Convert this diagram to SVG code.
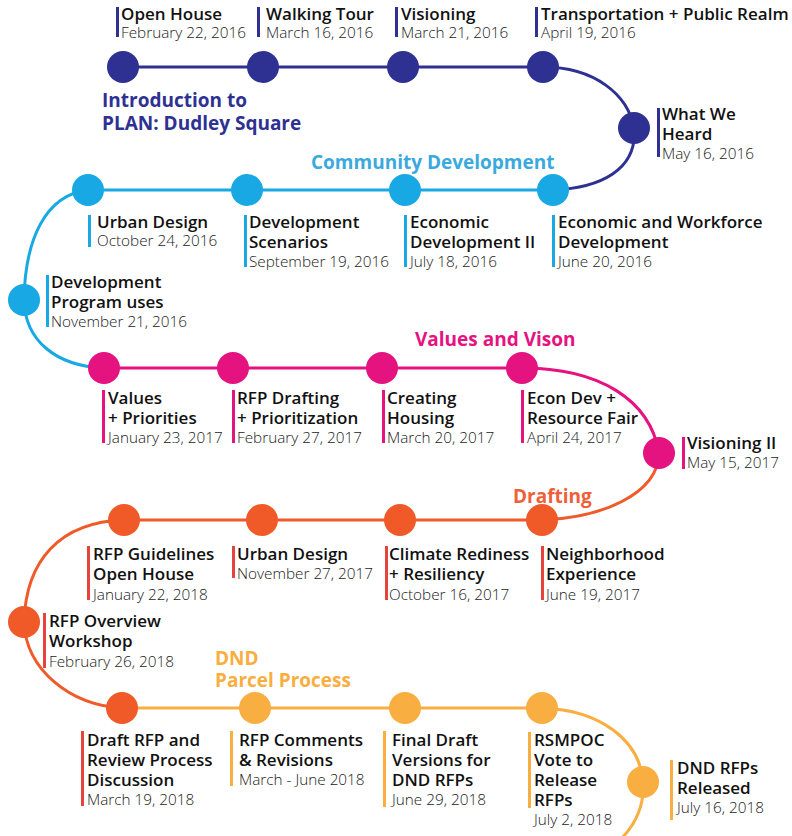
<svg xmlns="http://www.w3.org/2000/svg" width="792" height="836" viewBox="0 0 792 836">
<style>
.t{font-family:"Open Sans","Noto Sans","Liberation Sans",sans-serif;font-weight:600;font-size:17px;fill:#111}
.d{font-family:"Open Sans","Noto Sans","Liberation Sans",sans-serif;font-weight:300;font-size:15.3px;fill:#1a1a1a}
.s{font-family:"Open Sans","Noto Sans","Liberation Sans",sans-serif;font-weight:700;font-size:19px}
.ln{fill:none;stroke-width:3}
.navy{fill:#2e3192}.cyan{fill:#18a9e4}.mag{fill:#e5137f}.org{fill:#f05a28}.yel{fill:#f9ae41}.red{fill:#e5433b}
</style>
<rect width="792" height="836" fill="#fff"/>
<g id="connectors">
<path class="ln" stroke="#2e3192" d="M123,67 H543 C595,67 628,95 634,128 C638,170 600,188 553,190"/>
<path class="ln" stroke="#18a9e4" d="M553,190 H88 C45,195 25,240 24,300 C25,340 55,366 104,368"/>
<path class="ln" stroke="#e5137f" d="M104,368 H522 C600,368 650,400 659,453"/>
<path class="ln" stroke="#f05a28" d="M659,453 C658,495 600,518 542,520 H124 C60,522 26,560 24,622 C26,670 70,705 122,708"/>
<path class="ln" stroke="#f9ae41" d="M122,708 H542 C600,710 640,740 643,782 C645,810 632,828 620,840"/>
</g>
<g id="sections">
<text class="s navy" x="102" y="107">Introduction to</text>
<text class="s navy" x="102" y="130">PLAN: Dudley Square</text>
<text class="s" fill="#3aa9dd" x="311" y="169">Community Development</text>
<text class="s mag" x="415" y="346">Values and Vison</text>
<text class="s" fill="#ee5f3a" x="513" y="503">Drafting</text>
<text class="s yel" x="215" y="665">DND</text>
<text class="s yel" x="215" y="687">Parcel Process</text>
</g>
<g id="n1"><circle class="navy" cx="123" cy="67" r="16"/><rect class="navy" x="116" y="7" width="3" height="30"/><text class="t" x="121" y="20">Open House</text><text class="d" x="121" y="38">February 22, 2016</text></g>
<g id="n2"><circle class="navy" cx="263" cy="67" r="16"/><rect class="navy" x="257" y="7" width="3" height="30"/><text class="t" x="266" y="20">Walking Tour</text><text class="d" x="266" y="38">March 16, 2016</text></g>
<g id="n3"><circle class="navy" cx="403" cy="67" r="16"/><rect class="navy" x="395" y="7" width="3" height="30"/><text class="t" x="401" y="20">Visioning</text><text class="d" x="401" y="38">March 21, 2016</text></g>
<g id="n4"><circle class="navy" cx="543" cy="67" r="16"/><rect class="navy" x="535" y="7" width="3" height="30"/><text class="t" x="541" y="20">Transportation + Public Realm</text><text class="d" x="541" y="38">April 19, 2016</text></g>
<g id="n5"><circle class="navy" cx="634" cy="128" r="16"/><rect class="navy" x="657" y="108" width="3" height="49"/><text class="t" x="662" y="120">What We</text><text class="t" x="662" y="140">Heard</text><text class="d" x="662" y="159">May 16, 2016</text></g>
<g id="n6"><circle class="cyan" cx="553" cy="190" r="16"/><rect class="cyan" x="552" y="215" width="3" height="52"/><text class="t" x="558" y="228">Economic and Workforce</text><text class="t" x="558" y="248">Development</text><text class="d" x="558" y="267">June 20, 2016</text></g>
<g id="n7"><circle class="cyan" cx="405" cy="190" r="16"/><rect class="cyan" x="404" y="215" width="3" height="52"/><text class="t" x="410" y="228">Economic</text><text class="t" x="410" y="248">Development II</text><text class="d" x="410" y="267">July 18, 2016</text></g>
<g id="n8"><circle class="cyan" cx="247" cy="190" r="16"/><rect class="cyan" x="244" y="215" width="3" height="52"/><text class="t" x="249" y="228">Development</text><text class="t" x="249" y="248">Scenarios</text><text class="d" x="249" y="267">September 19, 2016</text></g>
<g id="n9"><circle class="cyan" cx="88" cy="190" r="16"/><rect class="cyan" x="88" y="215" width="3" height="32"/><text class="t" x="97" y="228">Urban Design</text><text class="d" x="97" y="246">October 24, 2016</text></g>
<g id="n10"><circle class="cyan" cx="24" cy="300" r="16"/><rect class="cyan" x="46" y="275" width="3" height="52"/><text class="t" x="51" y="288">Development</text><text class="t" x="51" y="308">Program uses</text><text class="d" x="51" y="327">November 21, 2016</text></g>
<g id="n11"><circle class="mag" cx="104" cy="368" r="16"/><rect class="mag" x="102" y="390" width="3" height="53"/><text class="t" x="108" y="404">Values</text><text class="t" x="108" y="424">+ Priorities</text><text class="d" x="108" y="443">January 23, 2017</text></g>
<g id="n12"><circle class="mag" cx="233" cy="368" r="16"/><rect class="mag" x="232" y="390" width="3" height="53"/><text class="t" x="237" y="404">RFP Drafting</text><text class="t" x="237" y="424">+ Prioritization</text><text class="d" x="237" y="443">February 27, 2017</text></g>
<g id="n13"><circle class="mag" cx="382" cy="368" r="16"/><rect class="mag" x="382" y="390" width="3" height="53"/><text class="t" x="387" y="404">Creating</text><text class="t" x="387" y="424">Housing</text><text class="d" x="387" y="443">March 20, 2017</text></g>
<g id="n14"><circle class="mag" cx="522" cy="368" r="16"/><rect class="mag" x="521" y="390" width="3" height="53"/><text class="t" x="527" y="404">Econ Dev +</text><text class="t" x="527" y="424">Resource Fair</text><text class="d" x="527" y="443">April 24, 2017</text></g>
<g id="n15"><circle class="mag" cx="659" cy="453" r="16"/><rect class="mag" x="682" y="437" width="3" height="32"/><text class="t" x="687" y="449">Visioning II</text><text class="d" x="687" y="468">May 15, 2017</text></g>
<g id="n16"><circle class="org" cx="542" cy="520" r="16"/><rect class="red" x="541" y="546" width="3" height="54"/><text class="t" x="546" y="560">Neighborhood</text><text class="t" x="546" y="580">Experience</text><text class="d" x="546" y="600">June 19, 2017</text></g>
<g id="n17"><circle class="org" cx="400" cy="520" r="16"/><rect class="red" x="385" y="546" width="3" height="54"/><text class="t" x="389" y="560">Climate Rediness</text><text class="t" x="389" y="580">+ Resiliency</text><text class="d" x="389" y="600">October 16, 2017</text></g>
<g id="n18"><circle class="org" cx="262" cy="520" r="16"/><rect class="red" x="232" y="546" width="3" height="32"/><text class="t" x="237" y="560">Urban Design</text><text class="d" x="237" y="579">November 27, 2017</text></g>
<g id="n19"><circle class="org" cx="124" cy="520" r="16"/><rect class="red" x="87" y="546" width="3" height="54"/><text class="t" x="93" y="560">RFP Guidelines</text><text class="t" x="93" y="580">Open House</text><text class="d" x="93" y="600">January 22, 2018</text></g>
<g id="n20"><circle class="org" cx="24" cy="622" r="16"/><rect class="red" x="43" y="613" width="3" height="55"/><text class="t" x="49" y="627">RFP Overview</text><text class="t" x="49" y="647">Workshop</text><text class="d" x="49" y="667">February 26, 2018</text></g>
<g id="n21"><circle class="org" cx="122" cy="708" r="16"/><rect class="red" x="81" y="731" width="3" height="75"/><text class="t" x="87" y="746">Draft RFP and</text><text class="t" x="87" y="766">Review Process</text><text class="t" x="87" y="786">Discussion</text><text class="d" x="87" y="805">March 19, 2018</text></g>
<g id="n22"><circle class="yel" cx="255" cy="708" r="16"/><rect class="yel" x="230" y="731" width="3" height="55"/><text class="t" x="239" y="746">RFP Comments</text><text class="t" x="239" y="766">&amp; Revisions</text><text class="d" x="239" y="785">March - June 2018</text></g>
<g id="n23"><circle class="yel" cx="405" cy="708" r="16"/><rect class="yel" x="383" y="731" width="3" height="76"/><text class="t" x="392" y="746">Final Draft</text><text class="t" x="392" y="766">Versions for</text><text class="t" x="392" y="786">DND RFPs</text><text class="d" x="392" y="805">June 29, 2018</text></g>
<g id="n24"><circle class="yel" cx="542" cy="708" r="16"/><rect class="yel" x="528" y="732" width="3" height="76"/><text class="t" x="534" y="746">RSMPOC</text><text class="t" x="534" y="766">Vote to</text><text class="t" x="534" y="786">Release</text><text class="t" x="534" y="806">RFPs</text><text class="d" x="534" y="825">July 2, 2018</text></g>
<g id="n25"><circle class="yel" cx="643" cy="782" r="16"/><rect class="yel" x="670" y="760" width="3" height="60"/><text class="t" x="677" y="774">DND RFPs</text><text class="t" x="677" y="794">Released</text><text class="d" x="677" y="813">July 16, 2018</text></g>
</svg>
